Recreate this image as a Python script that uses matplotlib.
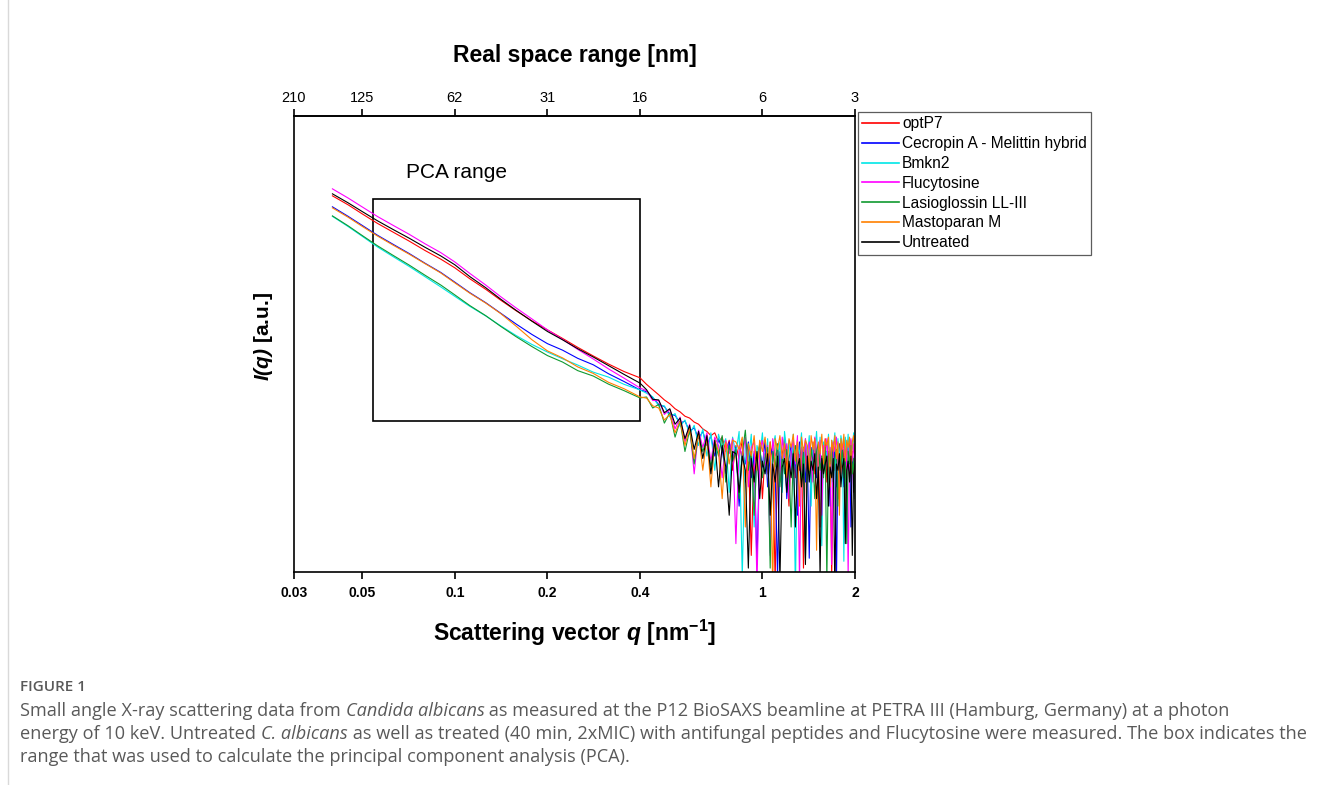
import numpy as np
import matplotlib
matplotlib.use("Agg")
import matplotlib.pyplot as plt
from matplotlib.patches import Rectangle
from matplotlib.ticker import NullLocator

plt.rcParams['font.family'] = ['Liberation Sans', 'DejaVu Sans']
plt.rcParams['mathtext.fontset'] = 'custom'
plt.rcParams['mathtext.rm'] = 'Liberation Sans:bold'
plt.rcParams['mathtext.it'] = 'Liberation Sans:italic'
plt.rcParams['mathtext.bf'] = 'Liberation Sans:bold'
plt.rcParams['mathtext.bfit'] = 'Liberation Sans:bold:italic'

# ---- data ----
# smooth low-q part
q_low = [0.040, 0.045, 0.050, 0.056, 0.063, 0.071, 0.080, 0.090, 0.100, 0.112, 0.126,
         0.141, 0.158, 0.178, 0.200, 0.224, 0.251, 0.282, 0.316, 0.355, 0.400]
# noisy high-q part
q_high = [0.42, 0.44, 0.46, 0.48, 0.50, 0.52, 0.54, 0.56, 0.58, 0.60,
          0.62, 0.64, 0.66, 0.68, 0.70, 0.72, 0.74, 0.76, 0.78, 0.80,
          0.82, 0.84, 0.86, 0.88, 0.90, 0.92, 0.94, 0.96, 0.98, 1.00,
          1.02, 1.04, 1.06, 1.08, 1.10, 1.12, 1.14, 1.16, 1.18, 1.20,
          1.22, 1.24, 1.26, 1.28, 1.30, 1.32, 1.34, 1.36, 1.38, 1.40,
          1.42, 1.44, 1.46, 1.48, 1.50, 1.52, 1.54, 1.56, 1.58, 1.60,
          1.62, 1.64, 1.66, 1.68, 1.70, 1.72, 1.74, 1.76, 1.78, 1.80,
          1.82, 1.84, 1.86, 1.88, 1.90, 1.92, 1.94, 1.96, 1.98, 2.00]

optP7_low = [9.81, 7.87, 6.31, 5.01, 4.04, 3.25, 2.58, 2.09, 1.69, 1.29, 1.00,
             0.766, 0.594, 0.462, 0.371, 0.301, 0.242, 0.196, 0.161, 0.134, 0.115]
optP7_high = [0.098, 0.086, 0.076, 0.067, 0.061, 0.054, 0.050, 0.045, 0.043, 0.039,
              0.037, 0.033, 0.031, 0.028, 0.030, 0.024, 0.027, 0.019, 0.025, 0.012,
              0.022, 0.016, 0.025, 0.009, 0.020, 0.0015, 0.019, 0.014, 0.023, 0.006,
              0.018, 0.011, 0.024, 0.015, 0.0008, 0.020, 0.009, 0.017, 0.027, 0.013,
              0.005, 0.021, 0.016, 0.010, 0.025, 0.012, 0.019, 0.0011, 0.022, 0.014,
              0.018, 0.007, 0.024, 0.011, 0.016, 0.020, 0.003, 0.017, 0.013, 0.026,
              0.009, 0.019, 0.015, 0.0009, 0.021, 0.012, 0.018, 0.006, 0.023, 0.016,
              0.011, 0.020, 0.004, 0.017, 0.024, 0.010, 0.015, 0.019, 0.007, 0.013]

cecropin_low = [7.50, 5.94, 4.76, 3.75, 3.00, 2.40, 1.89, 1.51, 1.19, 0.918, 0.721,
                0.557, 0.429, 0.332, 0.265, 0.226, 0.185, 0.158, 0.127, 0.105, 0.0855]
cecropin_high = [0.082, 0.071, 0.060, 0.057, 0.047, 0.046, 0.038, 0.040, 0.031, 0.034,
                 0.026, 0.031, 0.022, 0.028, 0.017, 0.026, 0.020, 0.011, 0.024, 0.016,
                 0.021, 0.005, 0.019, 0.014, 0.024, 0.010, 0.018, 0.0012, 0.020, 0.013,
                 0.025, 0.008, 0.017, 0.021, 0.012, 0.0009, 0.019, 0.015, 0.023, 0.006,
                 0.016, 0.022, 0.011, 0.018, 0.004, 0.024, 0.014, 0.020, 0.009, 0.017,
                 0.0014, 0.021, 0.013, 0.026, 0.010, 0.018, 0.015, 0.007, 0.022, 0.012,
                 0.019, 0.016, 0.005, 0.023, 0.013, 0.020, 0.0007, 0.017, 0.011, 0.024,
                 0.014, 0.008, 0.021, 0.016, 0.012, 0.025, 0.003, 0.018, 0.013, 0.020]

bmkn2_low = [5.94, 4.63, 3.65, 2.82, 2.22, 1.75, 1.36, 1.06, 0.841, 0.658, 0.522,
             0.409, 0.324, 0.260, 0.216, 0.183, 0.157, 0.132, 0.117, 0.098, 0.0855]
bmkn2_high = [0.079, 0.072, 0.058, 0.058, 0.044, 0.048, 0.035, 0.041, 0.029, 0.036,
              0.022, 0.033, 0.017, 0.030, 0.012, 0.029, 0.021, 0.026, 0.007, 0.027,
              0.018, 0.031, 0.0009, 0.024, 0.015, 0.029, 0.003, 0.022, 0.017, 0.030,
              0.011, 0.026, 0.0016, 0.021, 0.028, 0.014, 0.024, 0.007, 0.031, 0.019,
              0.025, 0.012, 0.029, 0.0006, 0.022, 0.018, 0.030, 0.010, 0.026, 0.016,
              0.028, 0.005, 0.023, 0.019, 0.031, 0.013, 0.027, 0.0019, 0.024, 0.020,
              0.017, 0.029, 0.011, 0.025, 0.021, 0.030, 0.008, 0.026, 0.015, 0.028,
              0.022, 0.0013, 0.027, 0.018, 0.029, 0.012, 0.025, 0.020, 0.030, 0.016]

flucytosine_low = [11.64, 9.29, 7.48, 5.93, 4.77, 3.84, 3.04, 2.45, 1.95, 1.47, 1.11,
                   0.834, 0.636, 0.485, 0.371, 0.294, 0.230, 0.182, 0.143, 0.114, 0.0898]
flucytosine_high = [0.084, 0.066, 0.066, 0.047, 0.053, 0.033, 0.044, 0.024, 0.037, 0.011,
                    0.032, 0.021, 0.030, 0.015, 0.027, 0.022, 0.010, 0.025, 0.018, 0.026,
                    0.002, 0.022, 0.017, 0.027, 0.008, 0.021, 0.024, 0.0007, 0.019, 0.025,
                    0.013, 0.022, 0.0015, 0.026, 0.017, 0.020, 0.010, 0.027, 0.015, 0.023,
                    0.006, 0.019, 0.025, 0.014, 0.028, 0.0008, 0.021, 0.016, 0.026, 0.011,
                    0.024, 0.018, 0.009, 0.027, 0.020, 0.013, 0.025, 0.004, 0.022, 0.017,
                    0.026, 0.012, 0.021, 0.0012, 0.024, 0.019, 0.027, 0.014, 0.008, 0.023,
                    0.018, 0.025, 0.011, 0.022, 0.0009, 0.020, 0.026, 0.015, 0.023, 0.013]

lasioglossin_low = [6.01, 4.71, 3.72, 2.90, 2.29, 1.81, 1.41, 1.11, 0.872, 0.670, 0.525,
                    0.404, 0.315, 0.247, 0.198, 0.169, 0.137, 0.120, 0.0985, 0.0840, 0.0703]
lasioglossin_high = [0.072, 0.055, 0.060, 0.038, 0.049, 0.027, 0.040, 0.019, 0.032, 0.014,
                     0.029, 0.019, 0.026, 0.013, 0.024, 0.017, 0.028, 0.009, 0.022, 0.015,
                     0.020, 0.006, 0.018, 0.032, 0.012, 0.019, 0.004, 0.017, 0.022, 0.010,
                     0.016, 0.021, 0.0011, 0.019, 0.013, 0.023, 0.008, 0.017, 0.011, 0.020,
                     0.014, 0.003, 0.018, 0.022, 0.012, 0.016, 0.009, 0.021, 0.0014, 0.017,
                     0.011, 0.020, 0.015, 0.006, 0.019, 0.023, 0.012, 0.017, 0.010, 0.021,
                     0.0008, 0.018, 0.014, 0.022, 0.009, 0.016, 0.020, 0.005, 0.018, 0.013,
                     0.021, 0.010, 0.017, 0.002, 0.019, 0.014, 0.022, 0.011, 0.016, 0.006]

mastoparan_low = [7.31, 5.81, 4.65, 3.68, 2.94, 2.36, 1.87, 1.49, 1.17, 0.907, 0.714,
                  0.552, 0.408, 0.292, 0.222, 0.187, 0.150, 0.128, 0.103, 0.0880, 0.0721]
mastoparan_high = [0.070, 0.058, 0.055, 0.041, 0.047, 0.030, 0.040, 0.022, 0.034, 0.016,
                   0.030, 0.012, 0.027, 0.008, 0.025, 0.019, 0.006, 0.024, 0.014, 0.025,
                   0.024, 0.020, 0.027, 0.003, 0.023, 0.017, 0.028, 0.012, 0.025, 0.019,
                   0.027, 0.014, 0.024, 0.0007, 0.026, 0.020, 0.028, 0.016, 0.023, 0.010,
                   0.026, 0.021, 0.029, 0.015, 0.024, 0.005, 0.027, 0.019, 0.025, 0.022,
                   0.012, 0.028, 0.020, 0.026, 0.0017, 0.024, 0.018, 0.029, 0.014, 0.025,
                   0.022, 0.027, 0.008, 0.025, 0.019, 0.028, 0.016, 0.024, 0.004, 0.026,
                   0.020, 0.029, 0.015, 0.025, 0.021, 0.027, 0.011, 0.024, 0.028, 0.018]

untreated_low = [10.3, 8.26, 6.68, 5.34, 4.31, 3.49, 2.79, 2.26, 1.82, 1.36, 1.04,
                 0.785, 0.600, 0.459, 0.357, 0.291, 0.234, 0.191, 0.155, 0.125, 0.101]
untreated_high = [0.086, 0.068, 0.067, 0.049, 0.054, 0.037, 0.043, 0.026, 0.036, 0.020,
                  0.031, 0.016, 0.028, 0.011, 0.025, 0.008, 0.022, 0.013, 0.004, 0.019,
                  0.018, 0.007, 0.017, 0.012, 0.0011, 0.016, 0.009, 0.019, 0.006, 0.015,
                  0.011, 0.018, 0.004, 0.014, 0.009, 0.017, 0.0008, 0.013, 0.016, 0.007,
                  0.015, 0.010, 0.018, 0.003, 0.013, 0.016, 0.008, 0.014, 0.0012, 0.017,
                  0.009, 0.015, 0.012, 0.018, 0.006, 0.013, 0.0009, 0.016, 0.011, 0.014,
                  0.017, 0.005, 0.013, 0.010, 0.016, 0.0006, 0.014, 0.012, 0.018, 0.008,
                  0.013, 0.016, 0.002, 0.012, 0.015, 0.009, 0.017, 0.0015, 0.011, 0.014]

labels = ["optP7", "Cecropin A - Melittin hybrid", "Bmkn2", "Flucytosine",
          "Lasioglossin LL-III", "Mastoparan M", "Untreated"]
colors = ["#ff0000", "#0000ff", "#00e6e6", "#ff00ff", "#109a30", "#ff8000", "#000000"]

q_ticks = [0.03, 0.05, 0.1, 0.2, 0.4, 1, 2]
q_ticklabels = ["0.03", "0.05", "0.1", "0.2", "0.4", "1", "2"]
real_space_labels = ["210", "125", "62", "31", "16", "6", "3"]
pca_q = (0.054, 0.40)

q = np.array(q_low + q_high)
series = [optP7_low + optP7_high, cecropin_low + cecropin_high, bmkn2_low + bmkn2_high,
          flucytosine_low + flucytosine_high, lasioglossin_low + lasioglossin_high,
          mastoparan_low + mastoparan_high, untreated_low + untreated_high]

# ---- figure ----
W, H = 1319, 785
fig = plt.figure(figsize=(W / 100, H / 100), dpi=100)
ax = fig.add_axes([294 / W, 1 - 572 / H, 561 / W, 456 / H])

for vals, lab, col in zip(series, labels, colors):
    ax.plot(q, vals, color=col, lw=0.8, label=lab)

ax.set_xscale('log')
ax.set_yscale('log')
ax.set_xlim(0.03, 2)
ax.set_ylim(1e-3, 69)

ax.set_xticks(q_ticks)
ax.set_xticklabels(q_ticklabels, fontweight='bold')
ax.xaxis.set_minor_locator(NullLocator())
ax.set_yticks([])
ax.yaxis.set_minor_locator(NullLocator())
ax.tick_params(axis='x', direction='out', length=5, width=1.2, labelsize=10, pad=5)
for sp in ax.spines.values():
    sp.set_linewidth(1.2)

ax.set_xlabel(r"Scattering vector $\mathbfit{q}$ [nm$^{\mathbf{-1}}$]",
              fontsize=16.5, fontweight='bold', labelpad=13)
ax.set_ylabel(r"$\mathbfit{I(q)}$ [a.u.]", fontsize=15, fontweight='bold')
ax.yaxis.set_label_coords(-0.034, 0.517)

top = ax.secondary_xaxis('top')
top.set_xticks(q_ticks)
top.set_xticklabels(real_space_labels)
top.xaxis.set_minor_locator(NullLocator())
top.tick_params(axis='x', direction='out', length=5, width=1.2, labelsize=10.5, pad=3)
top.spines['top'].set_linewidth(1.2)
top.set_xlabel("Real space range [nm]", fontsize=16.5, fontweight='bold', labelpad=21)

# PCA box
tr = ax.get_xaxis_transform()
ax.add_patch(Rectangle((pca_q[0], 0.331), pca_q[1] - pca_q[0], 0.487, transform=tr,
                       fill=False, ec='black', lw=1.2))
ax.text(0.1016, 0.877, "PCA range", transform=tr, ha='center', va='center', fontsize=15)

leg = fig.legend(loc='upper left', bbox_to_anchor=(858 / W, 1 - 112 / H), fontsize=11.2,
                 frameon=True, fancybox=False, edgecolor='#333333', borderpad=0.28,
                 handlelength=2.35, handletextpad=0.2, labelspacing=0.31, borderaxespad=0)
leg.get_frame().set_linewidth(0.9)
for ln in leg.get_lines():
    ln.set_linewidth(1.2)

# ---- caption ----
fig.add_artist(plt.Line2D([8 / W, 8 / W], [0, 1], color='#d9d9d9', lw=1))
cap_color = '#595959'
cap_font = ['Open Sans', 'DejaVu Sans']
fig.text(20 / W, 1 - 687 / H, "FIGURE 1", fontsize=11, color=cap_color, va='center',
         family=cap_font, fontweight='semibold')

renderer = fig.canvas.get_renderer()


def caption_line(y_px, parts):
    x_px = 20
    for txt, style in parts:
        t = fig.text(x_px / W, 1 - y_px / H, txt, fontsize=13.1, color=cap_color,
                     va='center', family=cap_font, style=style)
        bb = t.get_window_extent(renderer)
        x_px += bb.width


caption_line(711, [("Small angle X-ray scattering data from ", 'normal'),
                   ("Candida albicans", 'italic'),
                   (" as measured at the P12 BioSAXS beamline at PETRA III (Hamburg, Germany) at a photon", 'normal')])
caption_line(734, [("energy of 10 keV. Untreated ", 'normal'),
                   ("C. albicans", 'italic'),
                   (" as well as treated (40 min, 2xMIC) with antifungal peptides and Flucytosine were measured. The box indicates the", 'normal')])
caption_line(757, [("range that was used to calculate the principal component analysis (PCA).", 'normal')])

fig.savefig("out.png", dpi=100)
